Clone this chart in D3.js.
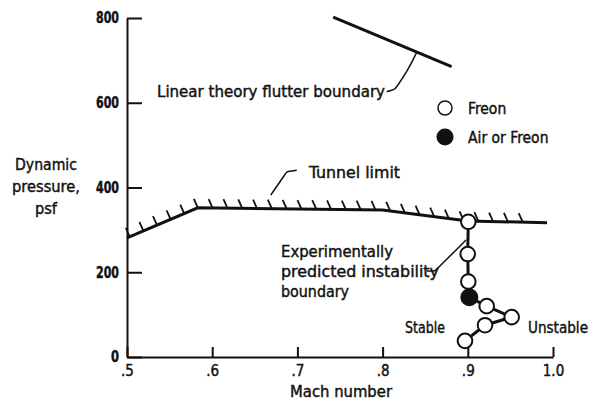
<!DOCTYPE html>
<html>
<head>
<meta charset="utf-8">
<script src="https://cdn.jsdelivr.net/npm/d3@7"></script>
<style>
  body { margin: 0; background: #fff; }
  svg text { font-family: "DejaVu Sans Condensed", "DejaVu Sans", sans-serif; fill: #111; stroke: #111; stroke-width: 0.4px; }
</style>
</head>
<body>
<svg id="chart" width="593" height="402"></svg>
<script>
// values
var machTicks = [0.5, 0.6, 0.7, 0.8, 0.9, 1.0];
var machLabels = [".5", ".6", ".7", ".8", ".9", "1.0"];
var qTicks = [0, 200, 400, 600, 800];

var tunnelLimit = [[0.5, 281], [0.583, 352], [0.8, 347], [0.9, 321], [0.993, 317]];
var flutterLinear = [[0.742, 802], [0.881, 685]];

// experimental points: [mach, q, filled]
var expMach = [0.9006, 0.8999, 0.9006, 0.9018, 0.9222, 0.9515, 0.9202, 0.8967];
var expQ = [319, 243, 178, 141, 120, 94, 75, 38];
var expFilled = [0, 0, 0, 1, 0, 0, 0, 0];

var svg = d3.select("#chart");

var x = d3.scaleLinear().domain([0.5, 1.0]).range([127, 553]);
var y = d3.scaleLinear().domain([0, 800]).range([357, 18]);

var line = d3.line()
  .x(function(d) { return x(d[0]); })
  .y(function(d) { return y(d[1]); });

// axes
var xAxis = d3.axisBottom(x)
  .tickValues(machTicks)
  .tickFormat(function(d, i) { return machLabels[i]; })
  .tickSizeInner(-10)
  .tickSizeOuter(0)
  .tickPadding(8);

var yAxis = d3.axisLeft(y)
  .tickValues(qTicks)
  .tickSizeInner(-15)
  .tickSizeOuter(0)
  .tickPadding(8);

var gx = svg.append("g").attr("transform", "translate(0," + y(0) + ")").call(xAxis);
var gy = svg.append("g").attr("transform", "translate(" + x(0.5) + ",0)").call(yAxis);

[gx, gy].forEach(function(g) {
  g.attr("font-family", null).attr("font-size", null);
  g.selectAll("path, line").attr("stroke", "#111").attr("stroke-width", 2);
  g.selectAll("text").style("font-size", "15px");
});
gy.selectAll("text")
  .style("font-weight", "bold")
  .attr("textLength", function(d) { return d ? 23 : 8; })
  .attr("lengthAdjust", "spacingAndGlyphs");

// tunnel limit with hatching
var tunnel = svg.append("path")
  .datum(tunnelLimit)
  .attr("d", line)
  .attr("fill", "none")
  .attr("stroke", "#111")
  .attr("stroke-width", 3);

var node = tunnel.node();
var total = node.getTotalLength();
var hatches = [];
for (var s = 3; s < total - 12; s += 14.8) {
  hatches.push(node.getPointAtLength(s));
}
svg.append("g").selectAll("line")
  .data(hatches)
  .enter()
  .append("line")
  .attr("x1", function(d) { return d.x; })
  .attr("y1", function(d) { return d.y; })
  .attr("x2", function(d) { return d.x - 4; })
  .attr("y2", function(d) { return d.y - 9; })
  .attr("stroke", "#111")
  .attr("stroke-width", 1.8);

// linear theory flutter boundary
svg.append("path")
  .datum(flutterLinear)
  .attr("d", line)
  .attr("fill", "none")
  .attr("stroke", "#111")
  .attr("stroke-width", 3);

// leader lines
var leader = d3.line()
  .x(function(d) { return x(d[0]); })
  .y(function(d) { return y(d[1]); })
  .curve(d3.curveBasis);

var leaders = [
  [[0.8048, 626], [0.8146, 632], [0.8146, 632], [0.8298, 677], [0.840, 719]],
  [[0.6687, 382], [0.6875, 437], [0.6875, 437], [0.6993, 441]],
  [[0.8518, 203], [0.8615, 203], [0.8615, 203], [0.8979, 276]]
];
svg.append("g").selectAll("path")
  .data(leaders)
  .enter()
  .append("path")
  .attr("d", leader)
  .attr("fill", "none")
  .attr("stroke", "#111")
  .attr("stroke-width", 1.5);

// experimental instability boundary
var pts = expMach.map(function(m, i) { return [m, expQ[i], expFilled[i]]; });
svg.append("path")
  .datum(pts)
  .attr("d", line)
  .attr("fill", "none")
  .attr("stroke", "#111")
  .attr("stroke-width", 3);

svg.append("g").selectAll("circle")
  .data(pts)
  .enter()
  .append("circle")
  .attr("cx", function(d) { return x(d[0]); })
  .attr("cy", function(d) { return y(d[1]); })
  .attr("r", function(d) { return d[2] ? 8 : 7.3; })
  .attr("fill", function(d) { return d[2] ? "#111" : "#fff"; })
  .attr("stroke", "#111")
  .attr("stroke-width", 2);

// legend
var legend = [["Freon", 0], ["Air or Freon", 1]];
var lg = svg.append("g").selectAll("g")
  .data(legend)
  .enter()
  .append("g")
  .attr("transform", function(d, i) { return "translate(445," + (108 + i * 29) + ")"; });
lg.append("circle")
  .attr("r", function(d) { return d[1] ? 8.5 : 7; })
  .attr("fill", function(d) { return d[1] ? "#111" : "#fff"; })
  .attr("stroke", "#111")
  .attr("stroke-width", function(d) { return d[1] ? 0 : 1.5; });
lg.append("text")
  .attr("x", 23)
  .attr("y", 5.5)
  .style("font-size", "15.5px")
  .text(function(d) { return d[0]; });

// labels
function label(txt, px, py, len, anchor) {
  var t = svg.append("text")
    .attr("x", px)
    .attr("y", py)
    .style("font-size", "15.5px")
    .attr("text-anchor", anchor || "start")
    .text(txt);
  if (len) t.attr("textLength", len).attr("lengthAdjust", "spacingAndGlyphs");
  return t;
}

label("Linear theory flutter boundary", 157, 97, 228);
label("Tunnel limit", 309, 178, 91);
label("Experimentally", 281, 257, 112);
label("predicted instability", 281, 277, 158);
label("boundary", 281, 297, 68);
label("Stable", 405, 333, 40);
label("Unstable", 528, 333, 60);
label("Dynamic", 46, 170, 62, "middle");
label("pressure,", 46, 192, 68, "middle");
label("psf", 46, 214, 22, "middle");
label("Mach number", 341, 397, 102, "middle");
</script>
</body>
</html>
